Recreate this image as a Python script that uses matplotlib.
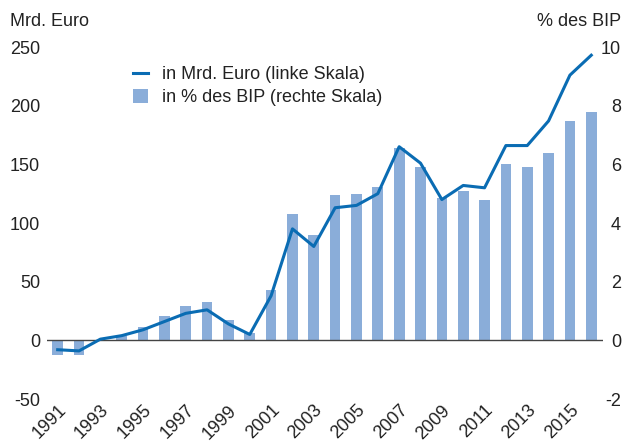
import matplotlib
matplotlib.use("Agg")
import matplotlib.pyplot as plt
from matplotlib.lines import Line2D
from matplotlib.patches import Patch

plt.rcParams["font.family"] = ["Liberation Sans", "DejaVu Sans"]

# ---- data ----
years = list(range(1991, 2017))
mrd_euro = [-8, -9, 1, 4, 9, 16, 23, 26, 14, 5,
            38, 95, 80, 113, 115, 125, 165, 151, 120, 132,
            130, 166, 166, 187, 226, 243]
pct_bip = [-0.5, -0.5, 0.0, 0.15, 0.46, 0.82, 1.18, 1.31, 0.71, 0.25,
           1.72, 4.3, 3.6, 4.96, 4.98, 5.22, 6.57, 5.9, 4.85, 5.1,
           4.8, 6.0, 5.9, 6.4, 7.47, 7.77]
left_ticks = [-50, 0, 50, 100, 150, 200, 250]
right_ticks = [-2, 0, 2, 4, 6, 8, 10]
xtick_years = years[::2]

BAR = "#8aadd9"
LINE = "#0a6cb3"
INK = "#222222"

W, H = 625, 446
fig = plt.figure(figsize=(W / 100, H / 100), dpi=100)
ax = fig.add_axes([47 / W, (H - 399) / H, (603 - 47) / W, (399 - 47) / H])
ax2 = ax.twinx()

ax2.bar(years, pct_bip, width=0.5, color=BAR, zorder=1)
ax.plot(years, mrd_euro, color=LINE, lw=2.2, zorder=3)
ax.axhline(0, color="#444444", lw=1.0, zorder=2)

ax.set_zorder(ax2.get_zorder() + 1)
ax.patch.set_visible(False)

ax.set_xlim(1990.5, 2016.55)
ax.set_ylim(-50, 250)
ax2.set_ylim(-2, 10)

ax.set_yticks(left_ticks)
ax.set_yticklabels([str(t) for t in left_ticks])
ax2.set_yticks(right_ticks)
ax2.set_yticklabels([str(t) for t in right_ticks], ha="right")

ax.set_xticks(xtick_years)
ax.set_xticklabels([str(y) for y in xtick_years], rotation=45, ha="right",
                   va="top", rotation_mode="anchor")

for a in (ax, ax2):
    for s in a.spines.values():
        s.set_visible(False)
ax.tick_params(axis="both", length=0, labelsize=13, colors=INK)
ax.tick_params(axis="y", pad=5)
ax.tick_params(axis="x", pad=2)
ax2.tick_params(axis="y", length=0, labelsize=13, colors=INK, pad=13)

fig.text(10 / W, 1 - 22 / H, "Mrd. Euro", ha="left", va="center",
         fontsize=13, color=INK)
fig.text(621 / W, 1 - 22 / H, "% des BIP", ha="right", va="center",
         fontsize=13, color=INK)

handles = [Line2D([], [], color=LINE, lw=2.2),
           Patch(facecolor=BAR, edgecolor="none")]
labels = ["in Mrd. Euro (linke Skala)", "in % des BIP (rechte Skala)"]
fig.legend(handles, labels, loc="upper left",
           bbox_to_anchor=(117 / W, 1 - 50 / H), frameon=False,
           fontsize=13, handlelength=0.8, handleheight=0.8,
           handletextpad=0.8, labelspacing=0.3, labelcolor=INK)

fig.savefig("out.png", dpi=100, facecolor="white")
